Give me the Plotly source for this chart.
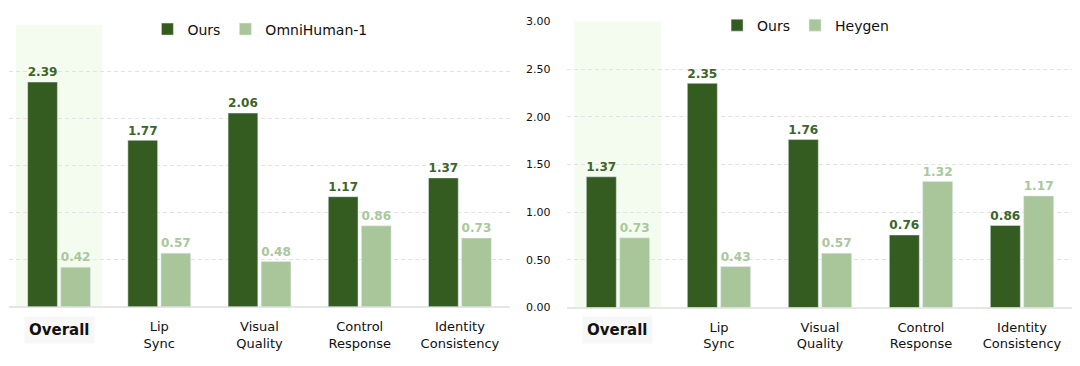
import plotly.graph_objects as go

categories = ["Overall", "Lip Sync", "Visual Quality", "Control Response", "Identity Consistency"]
ours_left = [2.39, 1.77, 2.06, 1.17, 1.37]
omnihuman = [0.42, 0.57, 0.48, 0.86, 0.73]
ours_right = [1.37, 2.35, 1.76, 0.76, 0.86]
heygen = [0.73, 0.43, 0.57, 1.32, 1.17]
y_ticks = [0, 0.5, 1.0, 1.5, 2.0, 2.5, 3.0]

DARK = "#345c21"
LIGHT = "#a8c69a"
DARK_TXT = "#3b6627"
LIGHT_TXT = "#a9c89b"
FONT = "DejaVu Sans"

tick_text = ["" if c == "Overall" else c.replace(" ", "<br>") for c in categories]

fig = go.Figure()

def add_pair(ours, other, other_name, xa, ya, legend):
    fig.add_trace(go.Bar(
        x=categories, y=ours, name="Ours", marker_color=DARK,
        text=[f"{v:.2f}" for v in ours], textposition="outside", cliponaxis=False,
        textfont=dict(family=FONT, size=13, color=DARK_TXT, weight="bold"),
        xaxis=xa, yaxis=ya, legend=legend))
    fig.add_trace(go.Bar(
        x=categories, y=other, name=other_name, marker_color=LIGHT,
        text=[f"{v:.2f}" for v in other], textposition="outside", cliponaxis=False,
        textfont=dict(family=FONT, size=13, color=LIGHT_TXT, weight="bold"),
        xaxis=xa, yaxis=ya, legend=legend))

add_pair(ours_left, omnihuman, "OmniHuman-1", "x", "y", "legend")
add_pair(ours_right, heygen, "Heygen", "x2", "y2", "legend2")

# highlight behind "Overall"
for xr, yr in (("x", "y"), ("x2", "y2")):
    fig.add_shape(type="rect", xref=xr, yref=yr, x0=-0.43, x1=0.43, y0=-0.01, y1=3.03,
                  fillcolor="#f4fcef", line_width=0, layer="below")

# "Overall" bold tick label with light background
for xr in ("x", "x2"):
    fig.add_annotation(x="Overall", xref=xr, y=0.1006, yref="paper", yanchor="middle",
                       text="<b>Overall</b>", showarrow=False,
                       font=dict(family=FONT, size=15, color="#111111"),
                       bgcolor="#f7f7f7", borderpad=4)

axis_x = dict(type="category", showgrid=False, showline=False, ticks="",
              tickmode="array", tickvals=categories, ticktext=tick_text,
              tickfont=dict(family=FONT, size=13, color="#111111"),
              ticklabelstandoff=10, fixedrange=True, automargin=False)
axis_y = dict(range=[0, 3.0], tickmode="array", tickvals=y_ticks, tickformat=".2f",
              showgrid=True, gridcolor="#e3e3e3", griddash="4px,3px", gridwidth=1,
              zeroline=True, zerolinecolor="#e6e6e6", zerolinewidth=2, automargin=False,
              showline=False, ticks="", tickfont=dict(family=FONT, size=11, color="#111111"))

fig.update_layout(
    width=1072, height=358,
    margin=dict(l=0, r=0, t=0, b=0, autoexpand=False),
    paper_bgcolor="white", plot_bgcolor="white",
    barmode="group", bargap=0.34, bargroupgap=0.1,
    font=dict(family=FONT),
    xaxis=dict(axis_x, domain=[0.0009, 0.4683], anchor="y"),
    yaxis=dict(axis_y, domain=[0.1656, 0.9534], anchor="x", showticklabels=False),
    xaxis2=dict(axis_x, domain=[0.5219, 0.993], anchor="y2"),
    yaxis2=dict(axis_y, domain=[0.1634, 0.9628], anchor="x2", ticklabelstandoff=16),
    legend=dict(orientation="h", x=0.235, xanchor="center", y=0.94, yanchor="middle",
                bgcolor="white", font=dict(family=FONT, size=14, color="#111111"),
                itemwidth=30, traceorder="normal"),
    legend2=dict(orientation="h", x=0.744, xanchor="center", y=0.951, yanchor="middle",
                 bgcolor="white", font=dict(family=FONT, size=14, color="#111111"),
                 itemwidth=30, traceorder="normal"),
)

fig.write_html("out.html")
